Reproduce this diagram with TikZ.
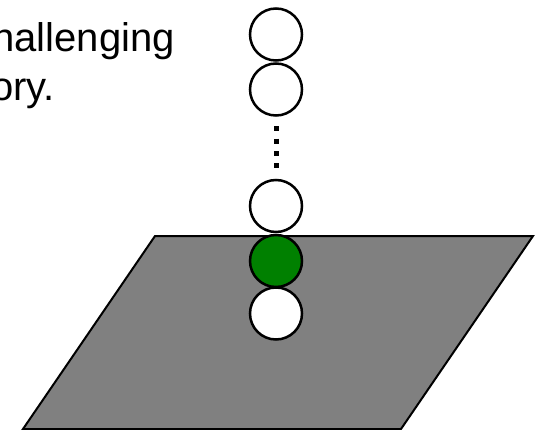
\documentclass[tikz,border=0pt]{standalone}
\usepackage{fontspec}
\setmainfont{Liberation Sans}
\definecolor{plane}{RGB}{128,128,128}
\definecolor{ball}{RGB}{0,128,0}
\begin{document}
\begin{tikzpicture}[x=1pt,y=-1pt,
  sphere/.style={circle,draw=black,line width=2.5pt,fill=white,minimum size=52pt,inner sep=0pt},
  label/.style={font=\fontsize{40}{46}\selectfont,inner sep=0pt}]
\useasboundingbox (0,0) rectangle (540,430);
\filldraw[fill=plane,draw=black,line width=2pt] (155,236) -- (533,236) -- (401,429) -- (23,429) -- cycle;
\node[sphere] (c1) at (276,34.5) {};
\node[sphere] (c2) at (276,89.5) {};
\node[sphere] (c3) at (276,206) {};
\node[sphere,fill=ball] (c4) at (276,261) {};
\node[sphere] (c5) at (276,313.5) {};
\draw[line width=5pt,dash pattern=on 5pt off 7.4pt] ([yshift=-9.5pt]c2.south) -- ([yshift=10pt]c3.north);
\node[label,anchor=base east] (t1) at (175,52) {hallenging};
\node[label,anchor=base east] (t2) at (55,101) {ory.};
\end{tikzpicture}
\end{document}
